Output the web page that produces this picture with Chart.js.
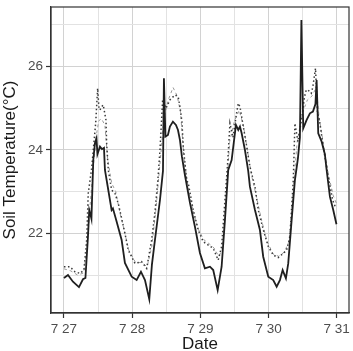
<!DOCTYPE html>
<html>
<head>
<meta charset="utf-8">
<script src="https://cdn.jsdelivr.net/npm/chart.js@4.4.1/dist/chart.umd.min.js"></script>
<style>
html,body{margin:0;padding:0;background:#fff;}
#c{display:block;}
</style>
</head>
<body>
<canvas id="c" width="353" height="351"></canvas>
<script>
// ---- Data (x in days of July, y in °C) ----
const solidDays = [27.000,27.059,27.132,27.220,27.279,27.315,27.352,27.371,27.389,27.403,27.430,27.455,27.477,27.491,27.503,27.528,27.557,27.587,27.601,27.650,27.699,27.718,27.773,27.846,27.894,27.993,28.066,28.129,28.188,28.251,28.290,28.334,28.408,28.452,28.466,28.488,28.525,28.554,28.598,28.642,28.672,28.701,28.730,28.774,28.848,28.921,28.994,29.067,29.141,29.189,29.254,29.312,29.361,29.409,29.459,29.522,29.556,29.581,29.606,29.654,29.702,29.727,29.801,29.874,29.922,29.996,30.069,30.119,30.167,30.207,30.255,30.289,30.339,30.387,30.431,30.460,30.482,30.509,30.559,30.607,30.651,30.688,30.705,30.729,30.779,30.826,30.852,30.900,30.949,30.996];
const solidTemps = [20.93,21.00,20.84,20.71,20.90,20.93,21.92,22.56,22.45,22.35,23.76,24.17,24.28,23.90,23.96,24.08,24.02,24.05,23.52,23.04,22.56,22.60,22.28,21.84,21.29,20.96,20.88,21.08,20.88,20.42,21.25,21.84,22.80,23.50,25.72,24.32,24.36,24.56,24.68,24.60,24.48,24.24,23.84,23.40,22.73,22.16,21.53,21.16,21.20,21.12,20.64,21.20,22.32,23.52,23.76,24.60,24.48,24.56,24.40,24.00,23.50,23.12,22.56,22.08,21.44,20.96,20.88,20.72,20.88,21.12,20.92,21.28,22.32,23.28,23.80,24.30,27.12,24.52,24.72,24.88,24.92,25.10,25.68,24.40,24.20,23.90,23.52,22.88,22.56,22.22];

const dottedDays = [27.000,27.088,27.161,27.235,27.293,27.333,27.356,27.406,27.465,27.494,27.513,27.528,27.553,27.576,27.616,27.626,27.650,27.699,27.748,27.796,27.846,27.894,27.943,28.041,28.139,28.213,28.286,28.334,28.378,28.408,28.447,28.496,28.554,28.628,28.675,28.701,28.730,28.749,28.799,28.823,28.896,28.969,29.042,29.116,29.189,29.262,29.312,29.361,29.405,29.434,29.478,29.531,29.556,29.581,29.630,29.680,29.727,29.801,29.850,29.924,29.997,30.070,30.142,30.216,30.265,30.314,30.363,30.387,30.431,30.490,30.528,30.553,30.578,30.627,30.650,30.689,30.718,30.748,30.802,30.875,30.940,30.988];
const dottedTemps = [21.20,21.20,21.08,21.04,21.12,21.84,22.96,23.56,24.64,25.48,25.00,24.96,25.04,25.08,24.72,24.16,23.52,23.04,22.96,22.72,22.36,22.00,21.60,21.28,21.32,21.16,21.84,22.50,23.30,24.00,25.20,25.00,25.20,25.32,25.28,25.04,24.68,24.10,23.28,23.20,22.56,22.08,21.80,21.72,21.64,21.36,21.68,22.80,23.80,24.64,24.30,24.88,25.12,25.04,24.56,24.08,23.60,23.12,22.56,22.08,21.68,21.48,21.42,21.52,21.60,21.92,23.28,24.64,24.20,24.80,25.28,25.44,25.44,25.36,25.52,25.96,24.90,24.70,24.08,23.36,22.80,22.60];

const lightDays = [27.00,27.10,27.20,27.29,27.34,27.38,27.42,27.47,27.51,27.55,27.60,27.64,27.70,27.76,27.82,27.88,27.95,28.05,28.14,28.22,28.29,28.35,28.42,28.47,28.53,28.60,28.66,28.71,28.76,28.83,28.90,28.97,29.05,29.13,29.20,29.27,29.32,29.37,29.43,29.50,29.57,29.63,29.69,29.75,29.82,29.90,29.98,30.07,30.15,30.23,30.30,30.36,30.42,30.50,30.57,30.64,30.70,30.74,30.80,30.88,30.95,31.00];
const lightTemps = [21.15,21.10,21.00,21.05,21.70,22.60,23.40,24.30,24.70,24.75,24.60,23.80,23.20,23.00,22.50,22.10,21.60,21.30,21.30,21.20,21.70,22.60,23.90,24.80,25.20,25.50,25.30,24.90,23.80,23.00,22.50,22.10,21.85,21.75,21.65,21.45,21.60,22.70,24.20,24.70,24.95,24.60,24.00,23.40,22.90,22.30,21.80,21.50,21.45,21.55,21.80,23.00,24.20,24.90,25.20,25.30,25.50,24.80,24.20,23.40,22.90,22.70];

const xTickDays = [27, 28, 29, 30, 31];
const xTickLabels = ['7 27', '7 28', '7 29', '7 30', '7 31'];
const yTickValues = [22, 24, 26];

// ---- Build datasets ----
const toPts = (xs, ys) => xs.map((x, i) => ({x: x, y: ys[i]}));

const panelBox = {
  id: 'panelBox',
  afterDatasetsDraw(chart) {
    const a = chart.chartArea, ctx = chart.ctx;
    ctx.save();
    ctx.strokeStyle = '#333333';
    ctx.lineWidth = 1.2;
    ctx.strokeRect(a.left, a.top, a.right - a.left, a.bottom - a.top);
    ctx.restore();
  }
};

const isMajorX = v => xTickDays.some(d => Math.abs(d - v) < 1e-6);
const isMajorY = v => yTickValues.some(d => Math.abs(d - v) < 1e-6);

new Chart(document.getElementById('c'), {
  type: 'line',
  data: {
    datasets: [
      {
        label: 'solid',
        data: toPts(solidDays, solidTemps),
        borderColor: '#1f1f1f',
        borderWidth: 1.8,
        pointRadius: 0,
        tension: 0,
        fill: false
      },
      {
        label: 'dotted',
        data: toPts(dottedDays, dottedTemps),
        borderColor: '#3a3a3a',
        borderWidth: 1.5,
        borderDash: [1.5, 2.5],
        pointRadius: 0,
        tension: 0,
        fill: false
      },
      {
        label: 'light',
        data: toPts(lightDays, lightTemps),
        borderColor: '#9a9a9a',
        borderWidth: 1,
        borderDash: [3, 3],
        pointRadius: 0,
        tension: 0,
        fill: false
      }
    ]
  },
  options: {
    responsive: false,
    animation: false,
    devicePixelRatio: 1,
    layout: { padding: { top: 7, right: 4, left: 0, bottom: 0 } },
    plugins: { legend: { display: false }, tooltip: { enabled: false } },
    scales: {
      x: {
        type: 'linear',
        min: 26.81,
        max: 31.18,
        afterFit(scale) { scale.height = 38; scale.paddingLeft = 0; scale.paddingRight = 0; },
        border: { display: true, color: '#333333', width: 1.2 },
        grid: {
          color: ctx => isMajorX(ctx.tick.value) ? '#d2d2d2' : '#e2e2e2',
          lineWidth: 1,
          tickLength: 5,
          tickColor: ctx => isMajorX(ctx.tick.value) ? '#333333' : 'rgba(0,0,0,0)',
          tickWidth: 1.2
        },
        ticks: {
          stepSize: 0.5,
          includeBounds: false,
          autoSkip: false,
          maxRotation: 0,
          padding: 3,
          color: '#4d4d4d',
          font: { family: "'Liberation Sans', Arial, sans-serif", size: 13.5 },
          callback: v => {
            const i = xTickDays.findIndex(d => Math.abs(d - v) < 1e-6);
            return i >= 0 ? xTickLabels[i] : '';
          }
        },
        title: {
          display: true,
          text: 'Date',
          color: '#1a1a1a',
          padding: 0,
          font: { family: "'Liberation Sans', Arial, sans-serif", size: 17, lineHeight: 0.8 }
        }
      },
      y: {
        type: 'linear',
        min: 20.09,
        max: 27.43,
        afterFit(scale) { scale.width = 51; scale.paddingTop = 0; scale.paddingBottom = 0; },
        border: { display: true, color: '#333333', width: 1.2 },
        grid: {
          color: ctx => isMajorY(ctx.tick.value) ? '#d2d2d2' : '#e2e2e2',
          lineWidth: 1,
          tickLength: 5,
          tickColor: ctx => isMajorY(ctx.tick.value) ? '#333333' : 'rgba(0,0,0,0)',
          tickWidth: 1.2
        },
        ticks: {
          stepSize: 1,
          includeBounds: false,
          autoSkip: false,
          padding: 3,
          color: '#4d4d4d',
          font: { family: "'Liberation Sans', Arial, sans-serif", size: 13.5 },
          callback: v => isMajorY(v) ? String(v) : ''
        },
        title: {
          display: true,
          text: 'Soil Temperature(°C)',
          color: '#1a1a1a',
          padding: 0,
          font: { family: "'Liberation Sans', Arial, sans-serif", size: 17 }
        }
      }
    }
  },
  plugins: [panelBox]
});
</script>
</body>
</html>
